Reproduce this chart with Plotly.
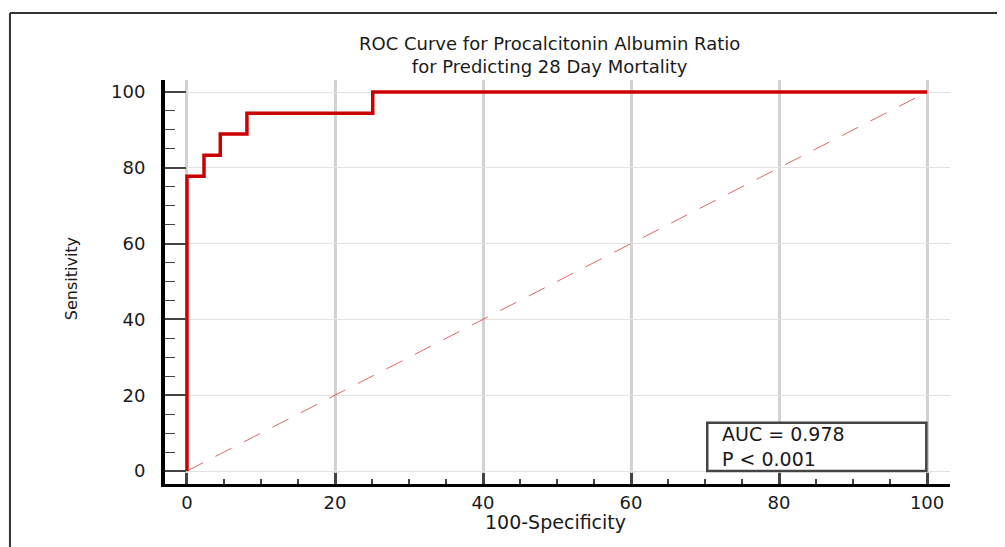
import plotly.graph_objects as go

# ROC step points (100-Specificity, Sensitivity)
fpr = [0, 0, 2.3, 4.5, 8.1, 25.1, 100]
tpr = [0, 77.8, 83.3, 88.9, 94.4, 100, 100]
diag_x = [0, 100]
diag_y = [0, 100]
tick_vals = [0, 20, 40, 60, 80, 100]
tick_text = ["0", "20", "40", "60", "80", "100"]
title_text = "ROC Curve for Procalcitonin Albumin Ratio<br>for Predicting 28 Day Mortality"
stats_text = "AUC = 0.978<br>P < 0.001"

FONT = "DejaVu Sans, Arial, sans-serif"

fig = go.Figure()
fig.add_trace(go.Scatter(x=diag_x, y=diag_y, mode="lines",
                         line=dict(color="rgba(200,0,0,0.6)", width=1, dash="18px,14px"),
                         hoverinfo="skip", showlegend=False))
fig.add_trace(go.Scatter(x=fpr, y=tpr, mode="lines", line_shape="hv",
                         line=dict(color="#CC0000", width=3.5), showlegend=False))

axis_common = dict(
    tickvals=tick_vals, ticktext=tick_text,
    showline=True, linecolor="black",
    ticks="inside", tickcolor="#444",
    showgrid=True, zeroline=False,
    tickfont=dict(family=FONT, size=18, color="#1a1a1a"),
)

# page body has an 8px margin; figure sized to fit the window
fig.update_layout(
    width=997, height=539,
    margin=dict(l=157, r=55, t=72, b=63),
    paper_bgcolor="white", plot_bgcolor="white",
    title=dict(text=title_text, x=0.49, xref="paper", xanchor="center",
               y=0.923, yanchor="middle",
               font=dict(family=FONT, size=18, color="#1a1a1a")),
    xaxis=dict(axis_common, range=[-2.97, 103.1], linewidth=3, ticklen=11, tickwidth=3,
               gridcolor="#d2d2d2", gridwidth=3, ticklabelstandoff=0,
               minor=dict(dtick=5, tick0=0, ticks="inside", ticklen=5, tickwidth=2,
                          tickcolor="#444", showgrid=False)),
    yaxis=dict(axis_common, range=[-3.43, 103.17], linewidth=4, ticklen=21, tickwidth=2,
               gridcolor="#e2e2e2", gridwidth=1, ticklabelstandoff=12,
               minor=dict(dtick=5, tick0=0, ticks="inside", ticklen=10, tickwidth=1,
                          tickcolor="#444", showgrid=False)),
    shapes=[
        # outer frame (left and top)
        dict(type="line", xref="paper", yref="paper", x0=-0.1975, x1=-0.1975, y0=-0.3, y1=1.1658,
             line=dict(color="#333", width=2)),
        dict(type="line", xref="paper", yref="paper", x0=-0.1975, x1=1.2, y0=1.1658, y1=1.1658,
             line=dict(color="#333", width=2)),
        # stats box
        dict(type="rect", xref="x", yref="y", x0=70.3, x1=99.9, y0=0, y1=12.7,
             line=dict(color="#444", width=2.5), fillcolor="white", layer="above"),
    ],
    annotations=[
        dict(text="Sensitivity", xref="paper", yref="paper", x=-0.1197, y=0.507,
             textangle=-90, showarrow=False, xanchor="center", yanchor="middle",
             font=dict(family=FONT, size=16, color="#1a1a1a")),
        dict(text="100-Specificity", xref="paper", yref="paper", x=0.498, y=-0.094,
             showarrow=False, xanchor="center", yanchor="middle",
             font=dict(family=FONT, size=19, color="#1a1a1a")),
        dict(text=stats_text, xref="x", yref="y", x=72.0, y=6.35, align="left",
             showarrow=False, xanchor="left", yanchor="middle",
             font=dict(family=FONT, size=19, color="#1a1a1a")),
    ],
)

fig.write_html("out.html")
